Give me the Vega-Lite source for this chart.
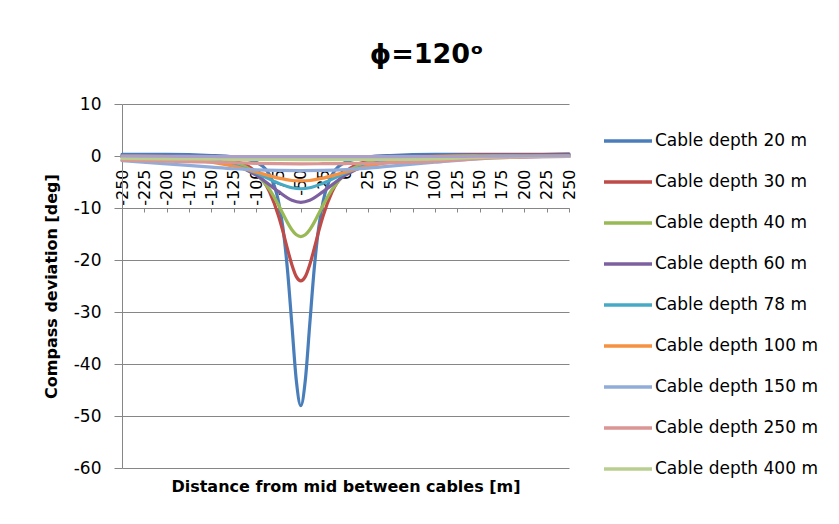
{
  "$schema": "https://vega.github.io/schema/vega-lite/v6.json",
  "width": 447,
  "height": 364,
  "autosize": {"type": "none"},
  "padding": {"left": 122, "top": 104, "right": 270, "bottom": 56},
  "background": "white",
  "config": {"view": {"stroke": null}, "font": "DejaVu Sans"},
  "title": {"text": "ϕ=120ᵒ", "font": "DejaVu Sans", "fontSize": 27, "fontWeight": "bold", "color": "black", "anchor": "middle", "frame": "group", "baseline": "alphabetic", "offset": 39, "dx": 81, "dy": 34},
  "data": {"values": [
    {"d": -250, "s": "Cable depth 20 m", "v": 0.3}, {"d": -200, "s": "Cable depth 20 m", "v": 0.3}, {"d": -150, "s": "Cable depth 20 m", "v": 0.1}, {"d": -125, "s": "Cable depth 20 m", "v": -0.2}, {"d": -100, "s": "Cable depth 20 m", "v": -1.2}, {"d": -85, "s": "Cable depth 20 m", "v": -3.6}, {"d": -75, "s": "Cable depth 20 m", "v": -8.7}, {"d": -70, "s": "Cable depth 20 m", "v": -13.8}, {"d": -65, "s": "Cable depth 20 m", "v": -21.7}, {"d": -60, "s": "Cable depth 20 m", "v": -32.4}, {"d": -55, "s": "Cable depth 20 m", "v": -43.2}, {"d": -50, "s": "Cable depth 20 m", "v": -48}, {"d": -45, "s": "Cable depth 20 m", "v": -43.2}, {"d": -40, "s": "Cable depth 20 m", "v": -32.4}, {"d": -35, "s": "Cable depth 20 m", "v": -21.7}, {"d": -30, "s": "Cable depth 20 m", "v": -13.8}, {"d": -25, "s": "Cable depth 20 m", "v": -8.7}, {"d": -15, "s": "Cable depth 20 m", "v": -3.6}, {"d": 0, "s": "Cable depth 20 m", "v": -1.2}, {"d": 25, "s": "Cable depth 20 m", "v": -0.2}, {"d": 50, "s": "Cable depth 20 m", "v": 0.1}, {"d": 100, "s": "Cable depth 20 m", "v": 0.3}, {"d": 150, "s": "Cable depth 20 m", "v": 0.3}, {"d": 200, "s": "Cable depth 20 m", "v": 0.3}, {"d": 250, "s": "Cable depth 20 m", "v": 0.4},
    {"d": -250, "s": "Cable depth 30 m", "v": 0.0}, {"d": -200, "s": "Cable depth 30 m", "v": -0.05}, {"d": -150, "s": "Cable depth 30 m", "v": -0.36}, {"d": -125, "s": "Cable depth 30 m", "v": -0.96}, {"d": -100, "s": "Cable depth 30 m", "v": -3.1}, {"d": -85, "s": "Cable depth 30 m", "v": -6.9}, {"d": -75, "s": "Cable depth 30 m", "v": -11.5}, {"d": -70, "s": "Cable depth 30 m", "v": -14.5}, {"d": -65, "s": "Cable depth 30 m", "v": -17.8}, {"d": -60, "s": "Cable depth 30 m", "v": -20.9}, {"d": -55, "s": "Cable depth 30 m", "v": -23.2}, {"d": -50, "s": "Cable depth 30 m", "v": -24}, {"d": -45, "s": "Cable depth 30 m", "v": -23.2}, {"d": -40, "s": "Cable depth 30 m", "v": -20.9}, {"d": -35, "s": "Cable depth 30 m", "v": -17.8}, {"d": -30, "s": "Cable depth 30 m", "v": -14.5}, {"d": -25, "s": "Cable depth 30 m", "v": -11.5}, {"d": -15, "s": "Cable depth 30 m", "v": -6.9}, {"d": 0, "s": "Cable depth 30 m", "v": -3.1}, {"d": 25, "s": "Cable depth 30 m", "v": -0.96}, {"d": 50, "s": "Cable depth 30 m", "v": -0.36}, {"d": 100, "s": "Cable depth 30 m", "v": 0.0}, {"d": 150, "s": "Cable depth 30 m", "v": 0.2}, {"d": 200, "s": "Cable depth 30 m", "v": 0.2}, {"d": 250, "s": "Cable depth 30 m", "v": 0.2},
    {"d": -250, "s": "Cable depth 40 m", "v": -0.04}, {"d": -200, "s": "Cable depth 40 m", "v": -0.12}, {"d": -150, "s": "Cable depth 40 m", "v": -0.51}, {"d": -125, "s": "Cable depth 40 m", "v": -1.23}, {"d": -100, "s": "Cable depth 40 m", "v": -3.41}, {"d": -85, "s": "Cable depth 40 m", "v": -6.41}, {"d": -75, "s": "Cable depth 40 m", "v": -9.42}, {"d": -70, "s": "Cable depth 40 m", "v": -11.11}, {"d": -65, "s": "Cable depth 40 m", "v": -12.77}, {"d": -60, "s": "Cable depth 40 m", "v": -14.19}, {"d": -55, "s": "Cable depth 40 m", "v": -15.15}, {"d": -50, "s": "Cable depth 40 m", "v": -15.5}, {"d": -45, "s": "Cable depth 40 m", "v": -15.15}, {"d": -40, "s": "Cable depth 40 m", "v": -14.19}, {"d": -35, "s": "Cable depth 40 m", "v": -12.77}, {"d": -30, "s": "Cable depth 40 m", "v": -11.11}, {"d": -25, "s": "Cable depth 40 m", "v": -9.42}, {"d": -15, "s": "Cable depth 40 m", "v": -6.41}, {"d": 0, "s": "Cable depth 40 m", "v": -3.41}, {"d": 25, "s": "Cable depth 40 m", "v": -1.23}, {"d": 50, "s": "Cable depth 40 m", "v": -0.51}, {"d": 100, "s": "Cable depth 40 m", "v": -0.05}, {"d": 150, "s": "Cable depth 40 m", "v": 0.1}, {"d": 200, "s": "Cable depth 40 m", "v": 0.1}, {"d": 250, "s": "Cable depth 40 m", "v": 0.1},
    {"d": -250, "s": "Cable depth 60 m", "v": -0.09}, {"d": -200, "s": "Cable depth 60 m", "v": -0.25}, {"d": -150, "s": "Cable depth 60 m", "v": -0.85}, {"d": -125, "s": "Cable depth 60 m", "v": -1.75}, {"d": -100, "s": "Cable depth 60 m", "v": -3.67}, {"d": -75, "s": "Cable depth 60 m", "v": -6.86}, {"d": -60, "s": "Cable depth 60 m", "v": -8.52}, {"d": -50, "s": "Cable depth 60 m", "v": -8.9}, {"d": -40, "s": "Cable depth 60 m", "v": -8.52}, {"d": -25, "s": "Cable depth 60 m", "v": -6.86}, {"d": 0, "s": "Cable depth 60 m", "v": -3.67}, {"d": 25, "s": "Cable depth 60 m", "v": -1.75}, {"d": 50, "s": "Cable depth 60 m", "v": -0.85}, {"d": 100, "s": "Cable depth 60 m", "v": -0.25}, {"d": 150, "s": "Cable depth 60 m", "v": -0.09}, {"d": 200, "s": "Cable depth 60 m", "v": -0.04}, {"d": 250, "s": "Cable depth 60 m", "v": -0.02},
    {"d": -250, "s": "Cable depth 78 m", "v": -0.12}, {"d": -200, "s": "Cable depth 78 m", "v": -0.31}, {"d": -150, "s": "Cable depth 78 m", "v": -0.96}, {"d": -125, "s": "Cable depth 78 m", "v": -1.78}, {"d": -100, "s": "Cable depth 78 m", "v": -3.26}, {"d": -75, "s": "Cable depth 78 m", "v": -5.23}, {"d": -60, "s": "Cable depth 78 m", "v": -6.11}, {"d": -50, "s": "Cable depth 78 m", "v": -6.3}, {"d": -40, "s": "Cable depth 78 m", "v": -6.11}, {"d": -25, "s": "Cable depth 78 m", "v": -5.23}, {"d": 0, "s": "Cable depth 78 m", "v": -3.26}, {"d": 25, "s": "Cable depth 78 m", "v": -1.78}, {"d": 50, "s": "Cable depth 78 m", "v": -0.96}, {"d": 100, "s": "Cable depth 78 m", "v": -0.31}, {"d": 150, "s": "Cable depth 78 m", "v": -0.12}, {"d": 200, "s": "Cable depth 78 m", "v": -0.05}, {"d": 250, "s": "Cable depth 78 m", "v": -0.03},
    {"d": -250, "s": "Cable depth 100 m", "v": -0.19}, {"d": -200, "s": "Cable depth 100 m", "v": -0.45}, {"d": -150, "s": "Cable depth 100 m", "v": -1.2}, {"d": -125, "s": "Cable depth 100 m", "v": -1.97}, {"d": -100, "s": "Cable depth 100 m", "v": -3.07}, {"d": -75, "s": "Cable depth 100 m", "v": -4.25}, {"d": -60, "s": "Cable depth 100 m", "v": -4.71}, {"d": -50, "s": "Cable depth 100 m", "v": -4.8}, {"d": -40, "s": "Cable depth 100 m", "v": -4.71}, {"d": -25, "s": "Cable depth 100 m", "v": -4.25}, {"d": 0, "s": "Cable depth 100 m", "v": -3.07}, {"d": 25, "s": "Cable depth 100 m", "v": -1.97}, {"d": 50, "s": "Cable depth 100 m", "v": -1.2}, {"d": 100, "s": "Cable depth 100 m", "v": -0.45}, {"d": 150, "s": "Cable depth 100 m", "v": -0.19}, {"d": 200, "s": "Cable depth 100 m", "v": -0.09}, {"d": 250, "s": "Cable depth 100 m", "v": -0.05},
    {"d": -250, "s": "Cable depth 150 m", "v": -0.9}, {"d": -200, "s": "Cable depth 150 m", "v": -1.5}, {"d": -150, "s": "Cable depth 150 m", "v": -2.15}, {"d": -125, "s": "Cable depth 150 m", "v": -2.45}, {"d": -100, "s": "Cable depth 150 m", "v": -2.65}, {"d": -75, "s": "Cable depth 150 m", "v": -2.76}, {"d": -50, "s": "Cable depth 150 m", "v": -2.8}, {"d": -25, "s": "Cable depth 150 m", "v": -2.76}, {"d": 0, "s": "Cable depth 150 m", "v": -2.62}, {"d": 25, "s": "Cable depth 150 m", "v": -2.35}, {"d": 50, "s": "Cable depth 150 m", "v": -1.95}, {"d": 100, "s": "Cable depth 150 m", "v": -1.2}, {"d": 150, "s": "Cable depth 150 m", "v": -0.5}, {"d": 200, "s": "Cable depth 150 m", "v": -0.2}, {"d": 250, "s": "Cable depth 150 m", "v": -0.1},
    {"d": -250, "s": "Cable depth 250 m", "v": -0.8}, {"d": -200, "s": "Cable depth 250 m", "v": -1.0}, {"d": -150, "s": "Cable depth 250 m", "v": -1.2}, {"d": -125, "s": "Cable depth 250 m", "v": -1.3}, {"d": -100, "s": "Cable depth 250 m", "v": -1.4}, {"d": -75, "s": "Cable depth 250 m", "v": -1.47}, {"d": -50, "s": "Cable depth 250 m", "v": -1.5}, {"d": -25, "s": "Cable depth 250 m", "v": -1.48}, {"d": 0, "s": "Cable depth 250 m", "v": -1.45}, {"d": 25, "s": "Cable depth 250 m", "v": -1.4}, {"d": 50, "s": "Cable depth 250 m", "v": -1.3}, {"d": 100, "s": "Cable depth 250 m", "v": -1.05}, {"d": 150, "s": "Cable depth 250 m", "v": -0.5}, {"d": 200, "s": "Cable depth 250 m", "v": -0.2}, {"d": 250, "s": "Cable depth 250 m", "v": -0.1},
    {"d": -250, "s": "Cable depth 400 m", "v": -0.45}, {"d": -200, "s": "Cable depth 400 m", "v": -0.55}, {"d": -150, "s": "Cable depth 400 m", "v": -0.6}, {"d": -125, "s": "Cable depth 400 m", "v": -0.63}, {"d": -100, "s": "Cable depth 400 m", "v": -0.65}, {"d": -75, "s": "Cable depth 400 m", "v": -0.67}, {"d": -50, "s": "Cable depth 400 m", "v": -0.68}, {"d": -25, "s": "Cable depth 400 m", "v": -0.68}, {"d": 0, "s": "Cable depth 400 m", "v": -0.68}, {"d": 25, "s": "Cable depth 400 m", "v": -0.67}, {"d": 50, "s": "Cable depth 400 m", "v": -0.65}, {"d": 100, "s": "Cable depth 400 m", "v": -0.55}, {"d": 150, "s": "Cable depth 400 m", "v": -0.25}, {"d": 200, "s": "Cable depth 400 m", "v": -0.1}, {"d": 250, "s": "Cable depth 400 m", "v": -0.05},
    {"d": -250, "s": "Series 10", "v": 0.0}, {"d": -200, "s": "Series 10", "v": -0.05}, {"d": -150, "s": "Series 10", "v": -0.1}, {"d": -125, "s": "Series 10", "v": -0.12}, {"d": -100, "s": "Series 10", "v": -0.12}, {"d": -75, "s": "Series 10", "v": -0.12}, {"d": -50, "s": "Series 10", "v": -0.12}, {"d": -25, "s": "Series 10", "v": -0.12}, {"d": 0, "s": "Series 10", "v": -0.12}, {"d": 25, "s": "Series 10", "v": -0.12}, {"d": 50, "s": "Series 10", "v": -0.12}, {"d": 100, "s": "Series 10", "v": -0.1}, {"d": 150, "s": "Series 10", "v": -0.05}, {"d": 200, "s": "Series 10", "v": 0.0}, {"d": 250, "s": "Series 10", "v": 0.0}
  ]},
  "mark": {"type": "line", "interpolate": "monotone", "strokeWidth": 3.2, "strokeCap": "round", "clip": false},
  "encoding": {
    "x": {
      "field": "d", "type": "quantitative",
      "scale": {"domain": [-250, 250], "nice": false, "zero": false},
      "axis": {
        "orient": "bottom", "offset": -260,
        "values": [-250, -225, -200, -175, -150, -125, -100, -75, -50, -25, 0, 25, 50, 75, 100, 125, 150, 175, 200, 225, 250],
        "grid": false, "domainColor": "#868686", "tickColor": "#868686", "tickSize": 4,
        "labelAngle": 270, "labelAlign": "right", "labelBaseline": "middle", "labelPadding": -43,
        "labelFont": "DejaVu Sans", "labelFontSize": 16, "labelColor": "black",
        "labelOverlap": false, "labelFlush": false, "labelBound": false,
        "labelExpr": "'' + datum.value",
        "title": "Distance from mid between cables [m]",
        "titleFont": "DejaVu Sans", "titleFontSize": 16, "titleFontWeight": "bold", "titleColor": "black", "titlePadding": 266
      }
    },
    "y": {
      "field": "v", "type": "quantitative",
      "scale": {"domain": [-60, 10], "nice": false, "zero": false},
      "axis": {
        "values": [-60, -50, -40, -30, -20, -10, 0, 10],
        "grid": true, "gridColor": "#868686", "domainColor": "#868686", "tickColor": "#868686", "tickSize": 8,
        "labelPadding": 13, "labelFont": "DejaVu Sans", "labelFontSize": 17, "labelColor": "black",
        "labelExpr": "'' + datum.value",
        "title": "Compass deviation [deg]",
        "titleFont": "DejaVu Sans", "titleFontSize": 16, "titleFontWeight": "bold", "titleColor": "black", "titlePadding": 14
      }
    },
    "color": {
      "field": "s", "type": "nominal",
      "scale": {
        "domain": ["Cable depth 20 m", "Cable depth 30 m", "Cable depth 40 m", "Cable depth 60 m", "Cable depth 78 m", "Cable depth 100 m", "Cable depth 150 m", "Cable depth 250 m", "Cable depth 400 m", "Series 10"],
        "range": ["#4A7EBB", "#BE4B48", "#98B954", "#7D60A0", "#46AAC5", "#F59140", "#92ACDA", "#DA9694", "#B9CF91", "#ADA0C8"]
      },
      "legend": {
        "values": ["Cable depth 20 m", "Cable depth 30 m", "Cable depth 40 m", "Cable depth 60 m", "Cable depth 78 m", "Cable depth 100 m", "Cable depth 150 m", "Cable depth 250 m", "Cable depth 400 m"],
        "title": null, "orient": "none", "legendX": 492, "legendY": 23, "padding": 0,
        "symbolType": "M-2,0H2", "symbolSize": 576, "symbolStrokeWidth": 3.5,
        "labelFont": "DejaVu Sans", "labelFontSize": 17, "labelColor": "black", "labelOffset": 13, "labelLimit": 400,
        "rowPadding": 19
      }
    }
  }
}
